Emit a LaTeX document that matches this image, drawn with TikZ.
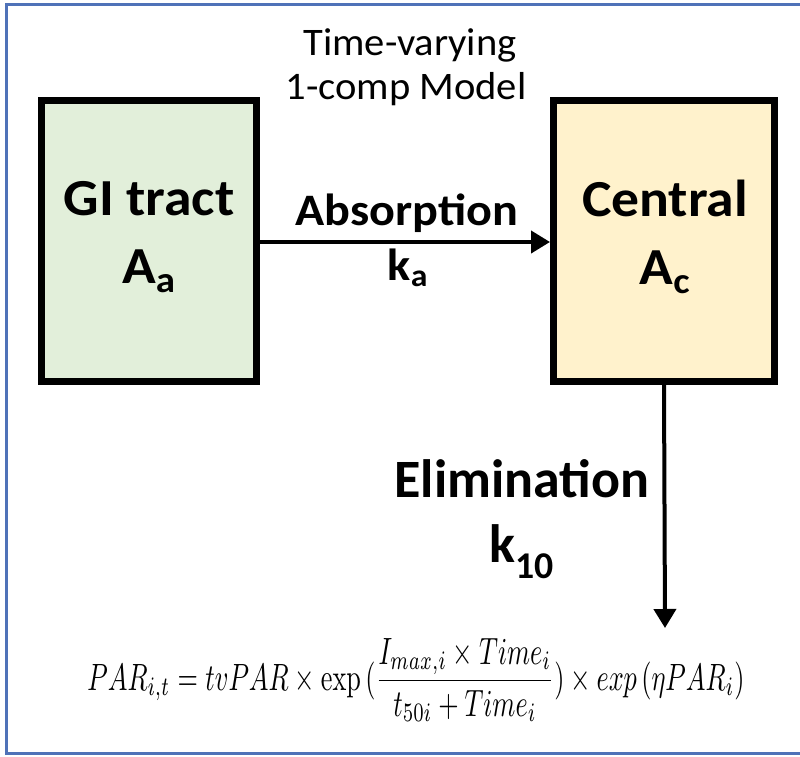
\documentclass[tikz,border=0pt]{standalone}
\usepackage{amsmath}
\usepackage[no-math]{fontspec}
\setmainfont{Carlito}
\usetikzlibrary{arrows.meta}
\definecolor{frameblue}{HTML}{4F72B8}
\definecolor{gifill}{HTML}{E2EFDA}
\definecolor{cenfill}{HTML}{FFF2CC}
\tikzset{
  compbox/.style={draw=black, line width=7pt, rectangle, inner sep=0pt},
  comptext/.style={align=center, inner sep=0pt, transform shape, xscale=1.07,
    font=\fontsize{52}{68}\selectfont\bfseries},
  flowarrow/.style={line width=4pt, -{Triangle[length=19pt,width=22pt]}},
  flowlabel/.style={anchor=base, inner sep=0pt},
  titletext/.style={anchor=base, inner sep=0pt, transform shape, xscale=1.04,
    font=\fontsize{39}{42}\selectfont}
}
\begin{document}
\begin{tikzpicture}[x=1pt,y=-1pt]
\useasboundingbox (0,0) rectangle (800,757);
\clip (0,0) rectangle (800,757);
% frame
\draw[frameblue, line width=3pt] (830,5) -- (6,5) -- (6,753) -- (830,753);
% title
\node[titletext] (t1) at (410,56) {Time-varying};
\node[titletext] (t2) at (406,100) {1-comp Model};
% compartments
\node[compbox, fill=gifill, minimum width=215pt, minimum height=281pt] (gi) at (149,241) {};
\node[comptext] (gitext) at (149,237) {GI tract\\A\textsubscript{a}};
\node[compbox, fill=cenfill, minimum width=221pt, minimum height=281pt] (cen) at (664,241) {};
\node[comptext] (centext) at (665,237) {Central\\A\textsubscript{c}};
% absorption
\draw[flowarrow] (gi.east |- 0,242) -- (cen.west |- 0,242);
\node[flowlabel, transform shape, xscale=1.07, font=\fontsize{45}{48}\selectfont\bfseries] (abs) at (407,225) {Absorption};
\node[flowlabel, transform shape, xscale=1.07, font=\fontsize{45}{48}\selectfont\bfseries] (ka) at (408,280) {k\textsubscript{a}};
% elimination
\coordinate (sink) at (665,628);
\draw[flowarrow] (cen.south) -- (sink);
\node[flowlabel, font=\fontsize{54}{58}\selectfont\bfseries] (elim) at (522,497) {Elimination};
\node[flowlabel, font=\fontsize{54}{58}\selectfont\bfseries] (k10) at (522,562) {k\textsubscript{10}};
% formula
\node[anchor=base, inner sep=0pt] (formula) at (416,690)
  {\resizebox{657pt}{!}{\scalebox{1}[1.45]{$\displaystyle PAR_{i,t} = tvPAR \times \exp\,(\frac{I_{max,i}\times Time_i}{t_{50i}+Time_i}) \times exp\,(\eta PAR_i)$}}};
\end{tikzpicture}
\end{document}
